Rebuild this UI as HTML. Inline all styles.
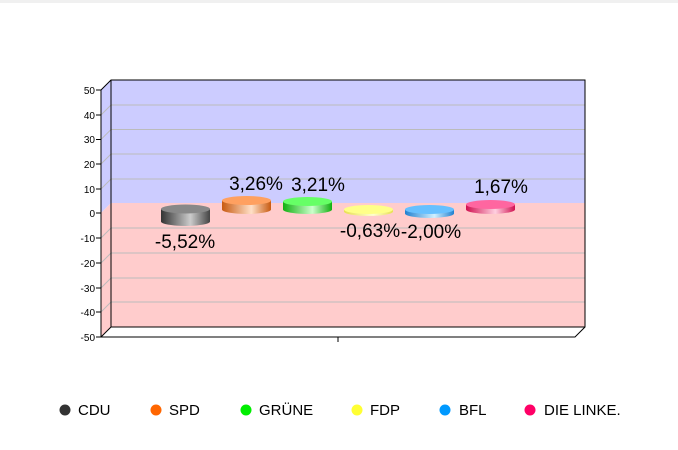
<!DOCTYPE html>
<html><head><meta charset="utf-8"><style>
body{margin:0;background:#fff;}
svg{display:block;font-family:"Liberation Sans",sans-serif;}
</style></head><body>
<svg width="678" height="450" viewBox="0 0 678 450">
<defs>
<linearGradient id="gc" x1="0" x2="1"><stop offset="0" stop-color="#333"/><stop offset="0.6" stop-color="#ccc"/><stop offset="1" stop-color="#444"/></linearGradient>
<linearGradient id="gs" x1="0" x2="1"><stop offset="0" stop-color="#c85a10"/><stop offset="0.6" stop-color="#ffe0c8"/><stop offset="1" stop-color="#c85a10"/></linearGradient>
<linearGradient id="gg" x1="0" x2="1"><stop offset="0" stop-color="#10b010"/><stop offset="0.6" stop-color="#ccffcc"/><stop offset="1" stop-color="#10b010"/></linearGradient>
<linearGradient id="gf" x1="0" x2="1"><stop offset="0" stop-color="#e8e050"/><stop offset="0.6" stop-color="#ffffd0"/><stop offset="1" stop-color="#e8e050"/></linearGradient>
<linearGradient id="gb" x1="0" x2="1"><stop offset="0" stop-color="#2080d0"/><stop offset="0.6" stop-color="#d0f0ff"/><stop offset="1" stop-color="#2080d0"/></linearGradient>
<linearGradient id="gl" x1="0" x2="1"><stop offset="0" stop-color="#d01050"/><stop offset="0.6" stop-color="#ffd0e0"/><stop offset="1" stop-color="#d01050"/></linearGradient>
</defs>
<rect x="0" y="0" width="678" height="3" fill="#f0f0f0"/>
<rect x="111" y="80" width="474" height="123" fill="#ccccff"/>
<rect x="111" y="203" width="474" height="124" fill="#ffcccc"/>
<polygon points="101,90 111,80 111,203 101,213" fill="#ccccff"/>
<polygon points="101,213 111,203 111,327 101,337" fill="#ffcccc"/>
<g stroke="#bbb" stroke-width="1">
<line x1="111" y1="105" x2="585" y2="105"/><line x1="111" y1="129.5" x2="585" y2="129.5"/>
<line x1="111" y1="154" x2="585" y2="154"/><line x1="111" y1="179" x2="585" y2="179"/>
<line x1="111" y1="228" x2="585" y2="228"/><line x1="111" y1="253" x2="585" y2="253"/>
<line x1="111" y1="278" x2="585" y2="278"/><line x1="111" y1="302" x2="585" y2="302"/>
<line x1="101" y1="115" x2="111" y2="105"/><line x1="101" y1="139.5" x2="111" y2="129.5"/>
<line x1="101" y1="164" x2="111" y2="154"/><line x1="101" y1="189" x2="111" y2="179"/>
<line x1="101" y1="238" x2="111" y2="228"/><line x1="101" y1="263" x2="111" y2="253"/>
<line x1="101" y1="288" x2="111" y2="278"/><line x1="101" y1="312" x2="111" y2="302"/>
</g>
<g stroke="#000" stroke-width="1" fill="none">
<polyline points="101,90 111,80 585,80 585,327 575,337 101,337 101,90"/>
<polyline points="111,80 111,327 585,327"/>
<line x1="101" y1="337" x2="111" y2="327"/>
<line x1="338" y1="337" x2="338" y2="342"/>
</g>
<g stroke="#000">
<line x1="96" y1="90" x2="101" y2="90"/><line x1="96" y1="115" x2="101" y2="115"/><line x1="96" y1="139.5" x2="101" y2="139.5"/>
<line x1="96" y1="164" x2="101" y2="164"/><line x1="96" y1="189" x2="101" y2="189"/><line x1="96" y1="213" x2="101" y2="213"/>
<line x1="96" y1="238" x2="101" y2="238"/><line x1="96" y1="263" x2="101" y2="263"/><line x1="96" y1="288" x2="101" y2="288"/>
<line x1="96" y1="312" x2="101" y2="312"/><line x1="96" y1="337" x2="101" y2="337"/>
</g>
<g font-size="10" text-anchor="end" fill="#000">
<text x="95" y="94">50</text><text x="95" y="119">40</text><text x="95" y="143">30</text><text x="95" y="168">20</text>
<text x="95" y="193">10</text><text x="95" y="217">0</text><text x="95" y="242">-10</text><text x="95" y="267">-20</text>
<text x="95" y="292">-30</text><text x="95" y="316">-40</text><text x="95" y="341">-50</text>
</g>
<g>
<path d="M161,209 V221.5 A24.5,4.5 0 0 0 210,221.5 V209 Z" fill="url(#gc)"/><ellipse cx="185.5" cy="209" rx="24.5" ry="4.5" fill="#888"/>
<path d="M222,200.5 V209.5 A24.5,4.5 0 0 0 271,209.5 V200.5 Z" fill="url(#gs)"/><ellipse cx="246.5" cy="200.5" rx="24.5" ry="4.5" fill="#ffa060"/>
<path d="M283,201.5 V209.5 A24.5,4.5 0 0 0 332,209.5 V201.5 Z" fill="url(#gg)"/><ellipse cx="307.5" cy="201.5" rx="24.5" ry="4.5" fill="#66ff66"/>
<path d="M344,209.5 V211.5 A24.5,4.5 0 0 0 393,211.5 V209.5 Z" fill="url(#gf)"/><ellipse cx="368.5" cy="209.5" rx="24.5" ry="4.5" fill="#ffff88"/>
<path d="M405,209.5 V213.5 A24.5,4.5 0 0 0 454,213.5 V209.5 Z" fill="url(#gb)"/><ellipse cx="429.5" cy="209.5" rx="24.5" ry="4.5" fill="#66c0ff"/>
<path d="M466,204.5 V209.5 A24.5,4.5 0 0 0 515,209.5 V204.5 Z" fill="url(#gl)"/><ellipse cx="490.5" cy="204.5" rx="24.5" ry="4.5" fill="#ff66a0"/>
</g>
<g font-size="19" text-anchor="middle" fill="#000">
<text x="185" y="248">-5,52%</text>
<text x="256" y="190">3,26%</text>
<text x="318" y="191">3,21%</text>
<text x="370" y="237">-0,63%</text>
<text x="431" y="238">-2,00%</text>
<text x="501" y="193">1,67%</text>
</g>
<g font-size="15" fill="#000">
<circle cx="65" cy="410" r="5.5" fill="#333"/><text x="78" y="415">CDU</text>
<circle cx="156" cy="410" r="5.5" fill="#ff6600"/><text x="169" y="415">SPD</text>
<circle cx="246" cy="410" r="5.5" fill="#00ee00"/><text x="259" y="415">GRÜNE</text>
<circle cx="357" cy="410" r="5.5" fill="#ffff33"/><text x="370" y="415">FDP</text>
<circle cx="445" cy="410" r="5.5" fill="#0099ff"/><text x="459" y="415">BFL</text>
<circle cx="530" cy="410" r="5.5" fill="#ff0066"/><text x="544" y="415">DIE LINKE.</text>
</g>
</svg>
</body></html>
